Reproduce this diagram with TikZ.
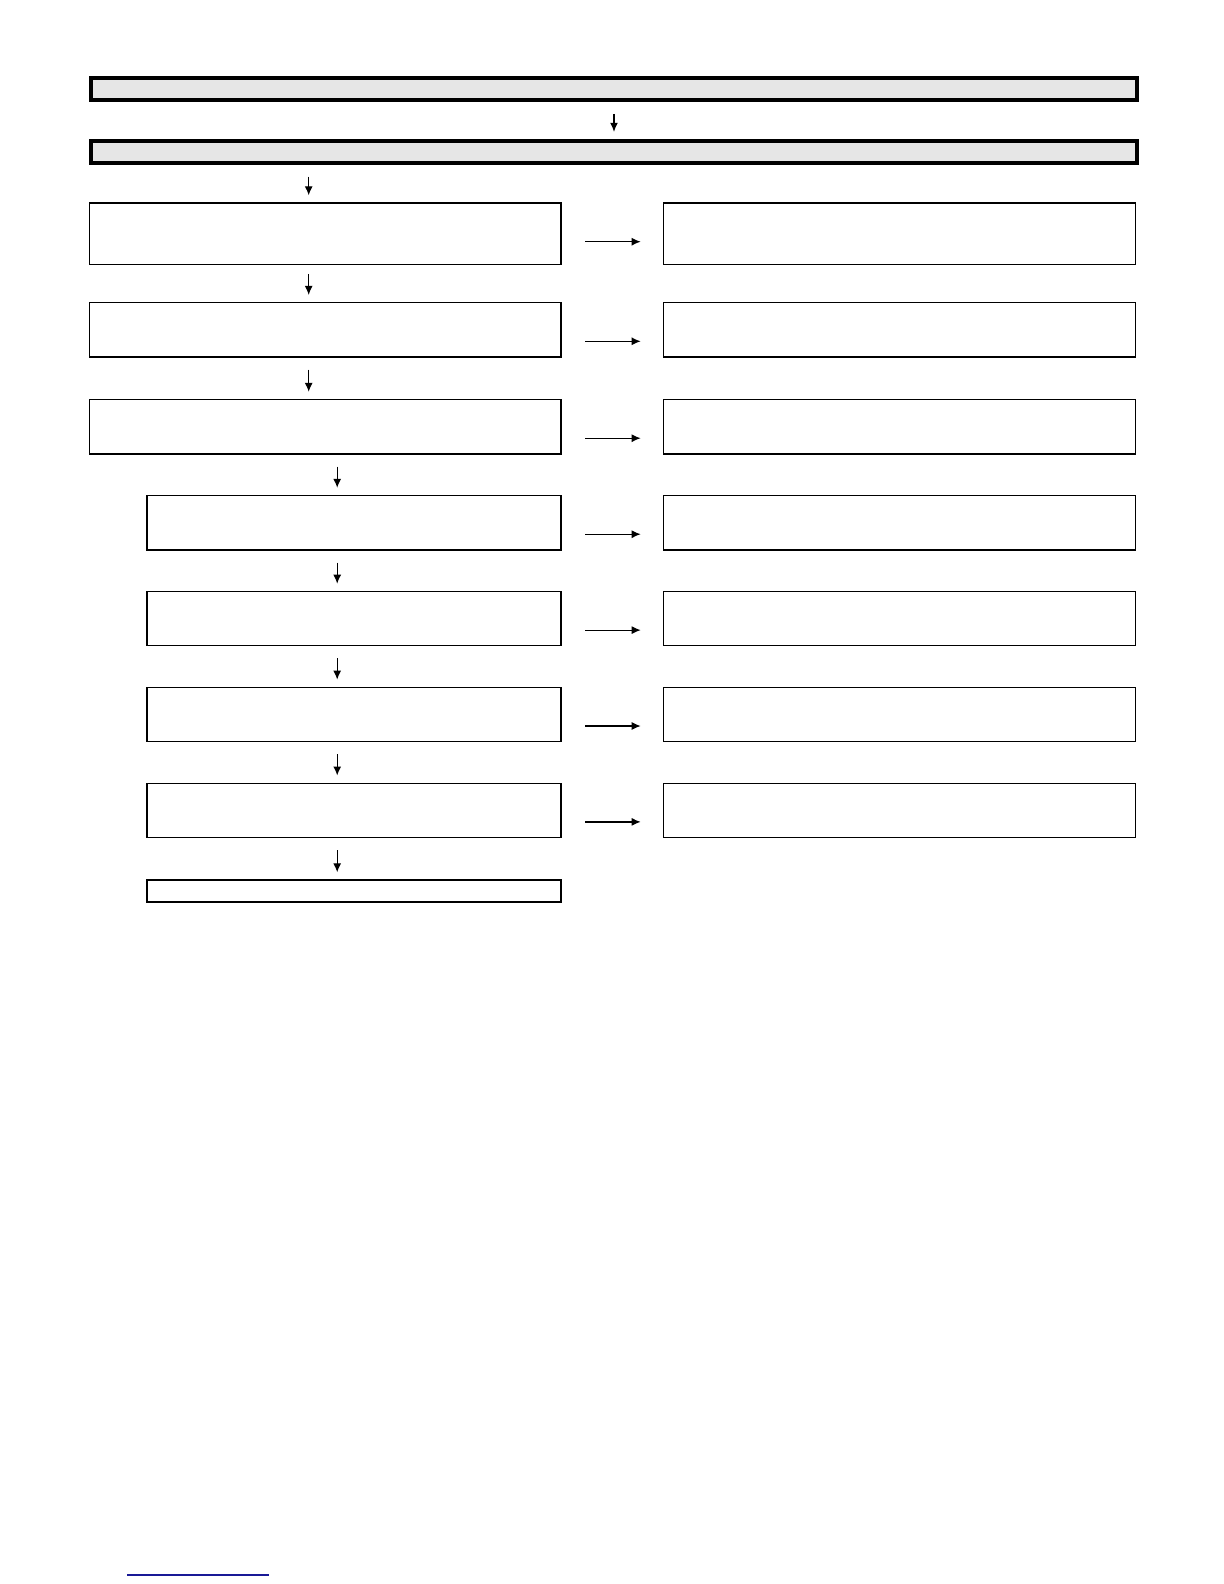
\documentclass[tikz,border=0pt]{standalone}
\usetikzlibrary{arrows.meta}
\definecolor{barfill}{RGB}{230,230,230}
\definecolor{linkblue}{RGB}{25,25,150}
\begin{document}
\begin{tikzpicture}[x=0.5pt,y=-0.5pt,
  bar/.style={draw,line width=2pt,fill=barfill,anchor=north west,inner sep=0pt,
    minimum width=523pt,minimum height=10.9pt},
  box/.style={draw,line width=0.6pt,anchor=north west,inner sep=0pt,minimum height=27.25pt},
  lbox/.style={box,minimum width=235.7pt},
  nbox/.style={box,minimum width=207pt},
  rbox/.style={box,minimum width=236.2pt},
  arr/.style={-{Latex[length=4.5pt,width=4pt]},line width=0.6pt},
  down/.style={arr,shorten <=6pt,shorten >=3.5pt}]
  \useasboundingbox (0,0) rectangle (1224,1584);
  % header bars
  \node[bar] (T1) at (89,76) {};
  \node[bar,minimum height=10.8pt] (T2) at (89,139) {};
  \draw[arr,shorten <=6pt,shorten >=3.6pt] (T1) -- (T2);
  % left column
  \node[lbox,minimum height=30.7pt] (L1) at (89,202.3) {};
  \node[lbox] (L2) at (89,301.9) {};
  \node[lbox] (L3) at (89,398.8) {};
  \node[nbox] (L4) at (146.3,494.8) {};
  \node[nbox] (L5) at (146.3,590.7) {};
  \node[nbox] (L6) at (146.3,686.6) {};
  \node[nbox] (L7) at (146.3,782.5) {};
  \node[nbox,minimum height=11pt] (L8) at (146.3,879.3) {};
  % right column
  \node[rbox,minimum height=30.7pt] (R1) at (662.7,202.3) {};
  \node[rbox] (R2) at (662.7,301.9) {};
  \node[rbox] (R3) at (662.7,398.8) {};
  \node[rbox] (R4) at (662.7,494.8) {};
  \node[rbox] (R5) at (662.7,590.7) {};
  \node[rbox] (R6) at (662.7,686.6) {};
  \node[rbox] (R7) at (662.7,782.5) {};
  % down arrows
  \coordinate (spineA) at (308.7,0);
  \coordinate (spineB) at (337.2,0);
  \draw[down] (T2.south -| spineA) -- (L1.north -| spineA);
  \draw[down,shorten <=4.5pt] (L1.south -| spineA) -- (L2.north -| spineA);
  \draw[down] (L2.south -| spineA) -- (L3.north -| spineA);
  \draw[down] (L3.south -| spineB) -- (L4.north -| spineB);
  \foreach \i/\j in {4/5,5/6,6/7,7/8}
    \draw[down] (L\i.south -| spineB) -- (L\j.north -| spineB);
  % side arrows
  \foreach \i in {1,...,7}
    \draw[arr,shorten <=11.85pt,shorten >=11pt]
      ([yshift=-19.7pt]L\i.north east) -- ([yshift=-19.7pt]R\i.north west);
  % footnote rule
  \draw[linkblue,line width=0.7pt] (127,1575) -- (269,1575);
\end{tikzpicture}
\end{document}
